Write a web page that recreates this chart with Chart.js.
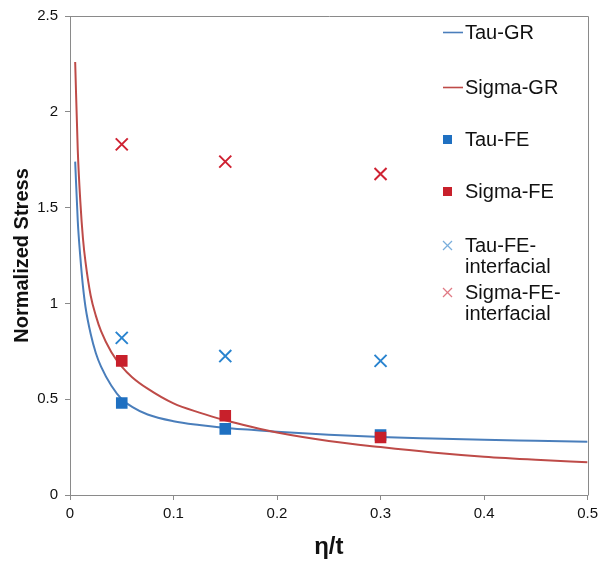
<!DOCTYPE html>
<html>
<head>
<meta charset="utf-8">
<title>Normalized Stress vs η/t</title>
<script src="https://cdn.jsdelivr.net/npm/chart.js@4.4.0/dist/chart.umd.min.js"></script>
<style>
  html, body { margin: 0; padding: 0; background: #fff; }
  #wrap { position: relative; width: 603px; height: 565px; }
  #legend {
    position: absolute; left: 0; top: 0;
    font-family: 'Liberation Sans', Arial, sans-serif;
    font-size: 20px; color: #111;
  }
  .item { position: absolute; left: 441px; display: flex; align-items: flex-start; line-height: 21px; }
  .item svg { flex: none; }
  .item .txt { width: 118px; }
</style>
</head>
<body>
<div id="wrap">
  <canvas id="stressChart" width="603" height="565"></canvas>
  <div id="legend"></div>
</div>
<script>
// ── DATA ─────────────────────────────────────────────────────────
// GR curves, sampled along η/t
const grEta   = [0.005, 0.0075, 0.01, 0.0125, 0.015, 0.02, 0.025, 0.03, 0.04, 0.05, 0.06, 0.075,
                 0.1, 0.125, 0.15, 0.175, 0.2, 0.25, 0.3, 0.35, 0.4, 0.45, 0.5];
const tauGr   = [1.74, 1.43, 1.24, 1.09, 0.98, 0.84, 0.74, 0.67, 0.57, 0.50, 0.46, 0.42,
                 0.385, 0.365, 0.35, 0.34, 0.33, 0.315, 0.303, 0.295, 0.288, 0.283, 0.278];
const sigmaGr = [2.26, 1.80, 1.53, 1.34, 1.215, 1.04, 0.935, 0.855, 0.745, 0.67, 0.615, 0.555,
                 0.478, 0.43, 0.39, 0.356, 0.326, 0.282, 0.25, 0.222, 0.200, 0.184, 0.171];

// FE results
const feEta            = [0.05, 0.15, 0.3];
const tauFe            = [0.48, 0.345, 0.313];
const sigmaFe          = [0.70, 0.414, 0.30];
const tauFeInterface   = [0.82, 0.725, 0.70];
const sigmaFeInterface = [1.83, 1.74, 1.675];

const xTicks = [0, 0.1, 0.2, 0.3, 0.4, 0.5];
const yTicks = [0, 0.5, 1, 1.5, 2, 2.5];

// ── STYLE ────────────────────────────────────────────────────────
const FONT = "'Liberation Sans', Arial, sans-serif";
const AXIS_GRAY = '#8a8a8a';
const COL = {
  tauLine: '#4a7ebb', sigmaLine: '#be4b48',
  tauSq: '#1f70c1', sigmaSq: '#c8202b',
  tauX: '#2a84cf', sigmaX: '#cf2232',
  tauXLegend: '#7aaedc', sigmaXLegend: '#e07a84',
};

const pts = (xs, ys) => xs.map((x, i) => ({ x, y: ys[i] }));
const fmt = (v) => String(+v.toFixed(2));

const datasets = [
  { label: 'Tau-GR', kind: 'line', data: pts(grEta, tauGr), borderColor: COL.tauLine,
    showLine: true, borderWidth: 2, pointRadius: 0, cubicInterpolationMode: 'monotone', order: 6 },
  { label: 'Sigma-GR', kind: 'line', data: pts(grEta, sigmaGr), borderColor: COL.sigmaLine,
    showLine: true, borderWidth: 2, pointRadius: 0, cubicInterpolationMode: 'monotone', order: 5 },
  { label: 'Tau-FE', kind: 'square', data: pts(feEta, tauFe), backgroundColor: COL.tauSq,
    borderWidth: 0, pointStyle: 'rect', pointRadius: 8.2, order: 4 },
  { label: 'Sigma-FE', kind: 'square', data: pts(feEta, sigmaFe), backgroundColor: COL.sigmaSq,
    borderWidth: 0, pointStyle: 'rect', pointRadius: 8.2, order: 3 },
  { label: 'Tau-FE-interfacial', kind: 'cross', data: pts(feEta, tauFeInterface), borderColor: COL.tauX,
    legendColor: COL.tauXLegend, borderWidth: 2, pointStyle: 'crossRot', pointRadius: 8.5, order: 2 },
  { label: 'Sigma-FE-interfacial', kind: 'cross', data: pts(feEta, sigmaFeInterface), borderColor: COL.sigmaX,
    legendColor: COL.sigmaXLegend, borderWidth: 2, pointStyle: 'crossRot', pointRadius: 8.5, order: 1 },
];

// plot box: top and right edges
const frame = {
  id: 'frame',
  afterDraw(chart) {
    const { ctx, chartArea: a } = chart;
    ctx.save();
    ctx.strokeStyle = AXIS_GRAY;
    ctx.lineWidth = 1;
    ctx.beginPath();
    ctx.moveTo(Math.round(a.left) + 0.5, Math.round(a.top) + 0.5);
    ctx.lineTo(Math.round(a.right) + 0.5, Math.round(a.top) + 0.5);
    ctx.lineTo(Math.round(a.right) + 0.5, Math.round(a.bottom) + 0.5);
    ctx.stroke();
    ctx.restore();
  }
};

const axisCommon = (ticks) => ({
  type: 'linear',
  min: ticks[0],
  max: ticks[ticks.length - 1],
  afterBuildTicks: (s) => { s.ticks = ticks.map(v => ({ value: v })); },
  border: { display: true, color: AXIS_GRAY, width: 1 },
  grid: { display: true, drawOnChartArea: false, drawTicks: true, tickLength: 5, color: AXIS_GRAY },
});

new Chart(document.getElementById('stressChart'), {
  type: 'scatter',
  data: { datasets },
  options: {
    responsive: false,
    animation: false,
    layout: { padding: { top: 16, right: 15, left: 0, bottom: 0 } },
    plugins: { legend: { display: false }, tooltip: { enabled: false } },
    scales: {
      x: {
        ...axisCommon(xTicks),
        afterFit: (s) => { s.height = 70; },
        ticks: { padding: 5, color: '#111', font: { family: FONT, size: 15 }, callback: fmt, maxRotation: 0 },
        title: { display: true, text: 'η/t', color: '#111',
                 font: { family: FONT, size: 24, weight: 'bold' }, padding: { top: 0, bottom: 3 } },
      },
      y: {
        ...axisCommon(yTicks),
        afterFit: (s) => { s.width = 70; },
        ticks: { padding: 7, color: '#111', font: { family: FONT, size: 15 }, callback: fmt },
        title: { display: true, text: 'Normalized Stress', color: '#111',
                 font: { family: FONT, size: 20, weight: 'bold' }, padding: { top: 10, bottom: 0 } },
      },
    },
  },
  plugins: [frame],
});

// ── LEGEND (HTML, labels wrap like the original) ──────────────────
const legendTops = [22, 77, 129, 181, 235, 282];
const SVG_NS = 'http://www.w3.org/2000/svg';

function marker(ds) {
  const svg = document.createElementNS(SVG_NS, 'svg');
  svg.setAttribute('width', 24);
  svg.setAttribute('height', 21);
  const add = (tag, attrs) => {
    const el = document.createElementNS(SVG_NS, tag);
    Object.entries(attrs).forEach(([k, v]) => el.setAttribute(k, v));
    svg.appendChild(el);
  };
  if (ds.kind === 'line') {
    add('line', { x1: 2, y1: 10.5, x2: 22, y2: 10.5, stroke: ds.borderColor, 'stroke-width': 1.6 });
  } else if (ds.kind === 'square') {
    add('rect', { x: 2, y: 6, width: 9, height: 9, fill: ds.backgroundColor });
  } else {
    const c = ds.legendColor;
    add('line', { x1: 2, y1: 6, x2: 11, y2: 15, stroke: c, 'stroke-width': 1.2 });
    add('line', { x1: 2, y1: 15, x2: 11, y2: 6, stroke: c, 'stroke-width': 1.2 });
  }
  return svg;
}

const legendEl = document.getElementById('legend');
datasets.forEach((ds, i) => {
  const item = document.createElement('div');
  item.className = 'item';
  item.style.top = legendTops[i] + 'px';
  item.appendChild(marker(ds));
  const txt = document.createElement('div');
  txt.className = 'txt';
  txt.textContent = ds.label;
  item.appendChild(txt);
  legendEl.appendChild(item);
});
</script>
</body>
</html>
